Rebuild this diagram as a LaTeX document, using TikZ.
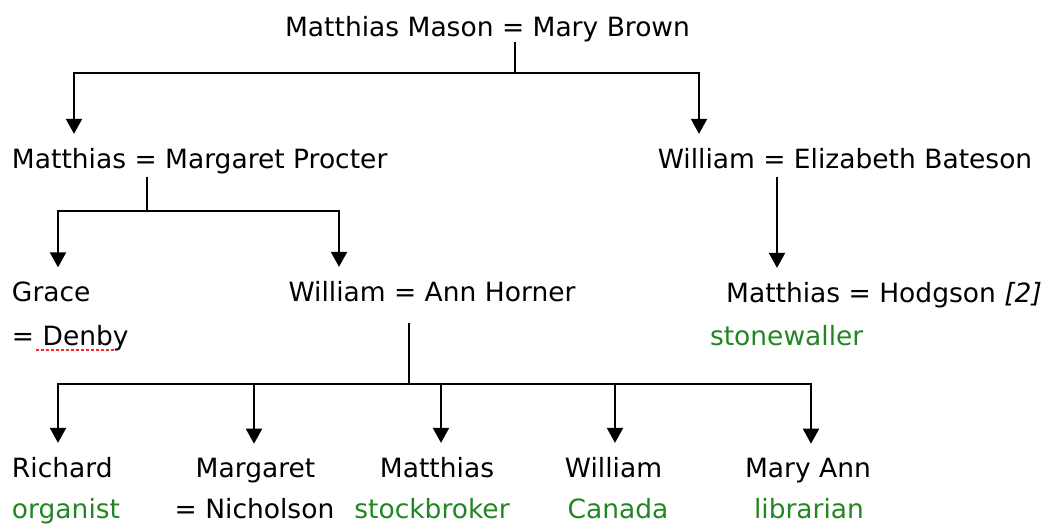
\documentclass[tikz,border=0pt]{standalone}
\usepackage{fontspec}
\setmainfont{DejaVu Sans}
\usetikzlibrary{arrows.meta}
\definecolor{occgreen}{RGB}{34,134,34}
\begin{document}
\begin{tikzpicture}[x=1pt,y=-1pt,
  every node/.style={font=\fontsize{26.5pt}{32pt}\selectfont, inner sep=0pt, outer sep=0pt},
  pname/.style={anchor=base, text=black},
  lpname/.style={anchor=base west, text=black},
  occ/.style={anchor=base, text=occgreen},
  locc/.style={anchor=base west, text=occgreen},
  link/.style={line width=2pt, draw=black},
  arr/.style={link, -{Triangle[width=16pt,length=15pt]}, shorten >=14pt}]
\useasboundingbox (0,0) rectangle (1057,528);
% generation 1
\node[pname] (top) at (487.5,36) {Matthias Mason = Mary Brown};
% generation 2
\node[lpname] (mmp) at (12,168) {Matthias = Margaret Procter};
\node[pname] (web) at (845,168) {William = Elizabeth Bateson};
% generation 3
\node[lpname] (grace) at (12,301) {Grace};
\node[lpname] (denby) at (12,345) {= Denby};
\node[pname] (wah) at (432,301) {William = Ann Horner};
\node[pname] (mh) at (884,302) {Matthias = Hodgson \textit{[2]}};
\node[locc] (stone) at (710,345) {stonewaller};
% generation 4
\node[lpname] (richard) at (12,477) {Richard};
\node[locc] (organist) at (12,518) {organist};
\node[pname] (margaret) at (255.5,477) {Margaret};
\node[pname] (nicholson) at (254.5,518) {= Nicholson};
\node[pname] (matthias) at (437,477) {Matthias};
\node[occ] (stockbroker) at (432,518) {stockbroker};
\node[pname] (william) at (613.5,477) {William};
\node[occ] (canada) at (618,518) {Canada};
\node[pname] (maryann) at (808,477) {Mary Ann};
\node[occ] (librarian) at (809,518) {librarian};
% spell-check underline
\draw[red!85!white, line width=1.4pt, dash pattern=on 3pt off 2pt] (36,350) -- (115,350);
% junction coordinates
\coordinate (j0) at (515,73);
\coordinate (a1) at (74,0);
\coordinate (a2) at (699,0);
\coordinate (j1) at (147,211);
\coordinate (b1) at (58,0);
\coordinate (b2) at (339,0);
\coordinate (c1) at (777,0);
\coordinate (j2) at (409,384);
\coordinate (d1) at (58,0);
\coordinate (d2) at (254,0);
\coordinate (d3) at (441,0);
\coordinate (d4) at (615,0);
\coordinate (d5) at (811,0);
% connectors
\draw[link] (top.south -| j0) -- (j0);
\draw[arr] (j0) -| (a1 |- mmp.north);
\draw[arr] (j0) -| (a2 |- web.north);
\draw[link, shorten <=3pt] (mmp.south -| j1) -- (j1);
\draw[arr] (j1) -| (b1 |- grace.north);
\draw[arr] (j1) -| (b2 |- wah.north);
\draw[arr, shorten <=9pt] (web.south -| c1) -- (c1 |- mh.north);
\draw[link, shorten <=22pt] (wah.south -| j2) -- (j2);
\draw[arr] (j2) -| (d1 |- richard.north);
\draw[arr] (j2) -| (d2 |- margaret.north);
\draw[arr] (j2) -| (d3 |- matthias.north);
\draw[arr] (j2) -| (d4 |- william.north);
\draw[arr] (j2) -| (d5 |- maryann.north);
\end{tikzpicture}
\end{document}
